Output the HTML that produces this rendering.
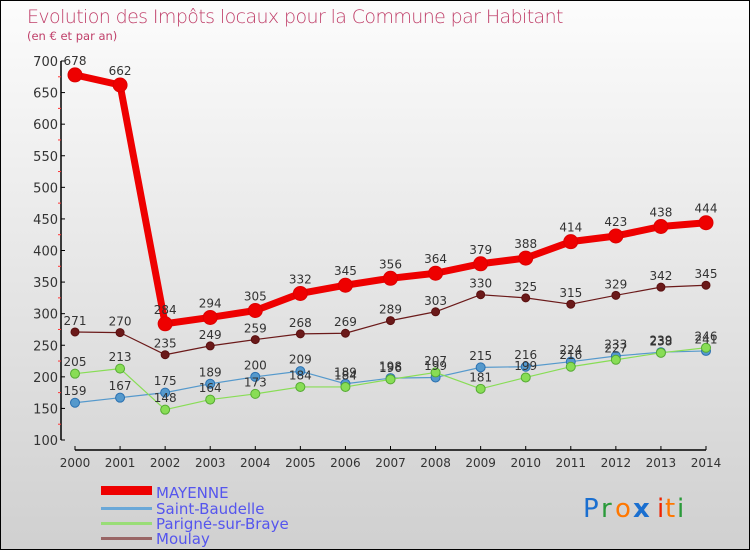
<!DOCTYPE html>
<html><head><meta charset="utf-8"><style>
html,body{margin:0;padding:0}
body{width:750px;height:550px;overflow:hidden;font-family:"DejaVu Sans","Liberation Sans",sans-serif}
#wrap{position:relative;width:748px;height:548px;border:1px solid #000;background:linear-gradient(#fcfcfc,#d0d0d0)}
</style></head><body>
<div id="wrap">
<svg id="chart" width="748" height="548" viewBox="0 0 748 548" xmlns="http://www.w3.org/2000/svg">
<text x="26" y="22" font-size="19" fill="#c0406a" style="font-family:'DejaVu Sans',sans-serif;font-weight:200" letter-spacing="-0.6">Evolution des Impôts locaux pour la Commune par Habitant</text>
<text x="26" y="39" font-size="11.5" fill="#c0406a">(en € et par an)</text>
<g id="axes"></g><g id="series"></g><g id="labels"></g>
<g>
<rect x="100" y="485" width="51" height="9" fill="#ee0000"/>
<text x="155" y="497" font-size="15" fill="#5555ee">MAYENNE</text>
<rect x="100" y="506" width="51" height="3" fill="#6aa8d8"/>
<text x="155" y="513" font-size="15" fill="#5555ee">Saint-Baudelle</text>
<rect x="100" y="521" width="51" height="3" fill="#99dd77"/>
<text x="155" y="528" font-size="15" fill="#5555ee">Parigné-sur-Braye</text>
<rect x="100" y="536" width="51" height="3" fill="#996666"/>
<text x="155" y="543" font-size="15" fill="#5555ee">Moulay</text>
</g>
<g font-size="26" font-family="'DejaVu Sans',sans-serif">
<text x="582" y="516" fill="#1a6fd0">P</text><text x="600" y="516" fill="#2a9a3a">r</text><text x="614" y="516" fill="#ff7700">o</text><text x="632" y="516" fill="#1a6fd0" font-weight="bold">x</text><text x="656" y="516" fill="#ee2200">i</text><text x="664" y="516" fill="#ff7700">t</text><text x="676" y="516" fill="#2a9a3a">i</text>
</g>
</svg>
</div>
<script>
const years=["2000","2001","2002","2003","2004","2005","2006","2007","2008","2009","2010","2011","2012","2013","2014"];
const mayenne=[678,662,284,294,305,332,345,356,364,379,388,414,423,438,444];
const saintBaudelle=[159,167,175,189,200,209,189,198,199,215,216,224,233,239,241];
const parigne=[205,213,148,164,173,184,184,196,207,181,199,216,227,238,246];
const moulay=[271,270,235,249,259,268,269,289,303,330,325,315,329,342,345];
const yTicks=[100,150,200,250,300,350,400,450,500,550,600,650,700];
const NS="http://www.w3.org/2000/svg";
function xS(i){return 74+i*(705-74)/14;}
function yS(v){return 439-(v-100)*(379/600);}
function mk(tag,attrs,parent,txt){const e=document.createElementNS(NS,tag);for(const k in attrs)e.setAttribute(k,attrs[k]);if(txt!==undefined)e.textContent=txt;parent.appendChild(e);return e;}
const axes=document.getElementById('axes'),ser=document.getElementById('series'),lab=document.getElementById('labels');
let a=mk('line',{x1:60,y1:yS(700),x2:60,y2:yS(100),stroke:'#000','stroke-width':1.5},axes);

yTicks.forEach((t,i)=>{
 let tk=mk('line',{x1:60,y1:yS(t),x2:64,y2:yS(t),stroke:'#000'},axes);
 
 let tl=mk('text',{x:57,y:yS(t)+5,'text-anchor':'end','font-size':13,fill:'#333'},axes,String(t));
 
 if(i<yTicks.length-1){let m=mk('line',{x1:57,y1:yS(t+25),x2:60,y2:yS(t+25),stroke:'#f33'},axes);
 }
});
let xa=mk('line',{x1:xS(0),y1:449,x2:xS(14),y2:449,stroke:'#000','stroke-width':1.5},axes);

years.forEach((y,i)=>{
 let tk=mk('line',{x1:xS(i),y1:445,x2:xS(i),y2:449,stroke:'#000'},axes);
 
 let tl=mk('text',{x:xS(i),y:466,'text-anchor':'middle','font-size':12,fill:'#333'},axes,y);
 
});
function draw(vals,name,color,lw,r,stroke){
 const g=mk('g',{},ser);
 
 const pts=vals.map((v,i)=>xS(i)+','+yS(v)).join(' ');
 let pl=mk('polyline',{points:pts,fill:'none',stroke:color,'stroke-width':lw,'stroke-linejoin':'round'},g);
 
 vals.forEach((v,i)=>{
  let c=mk('circle',{cx:xS(i),cy:yS(v),r:r,fill:color,stroke:stroke,'stroke-width':1},g);
  
  let t=mk('text',{x:xS(i),y:yS(v)-r-3,'text-anchor':'middle','font-size':12,fill:'#333'},lab,String(v));
  
 });
}
draw(moulay,'moulay','#6b1a1a',1.2,4,'#5a1010');
draw(saintBaudelle,'saint-baudelle','#5599cc',1.2,4.5,'#2a70b0');
draw(parigne,'parigne-sur-braye','#88dd55',1.2,4.5,'#55aa33');
draw(mayenne,'mayenne','#ee0000',7,7,'#dd0000');
</script>
</body></html>
